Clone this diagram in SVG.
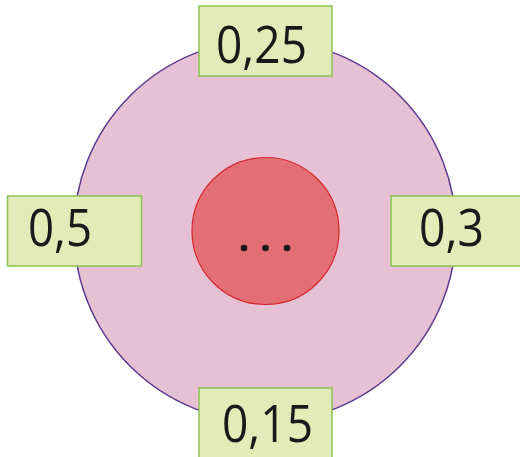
<svg xmlns="http://www.w3.org/2000/svg" width="520" height="457" viewBox="0 0 520 457">
<style>
.box{fill:#e3ebb9;stroke:#8dc353;stroke-width:1.5}
.lbl{font-family:"Open Sans","Liberation Sans",sans-serif;font-size:52px;fill:#1a1a1a}
.dot{fill:#1a1a1a}
</style>
<rect width="520" height="457" fill="#ffffff"/>
<g id="outer">
<circle cx="265" cy="231" r="191" fill="#e6c1d4" stroke="#5b3b91" stroke-width="1.5"/>
</g>
<g id="inner">
<circle cx="265.5" cy="231" r="73.5" fill="#e36f75" stroke="#d7262e" stroke-width="1.2"/>
<circle class="dot" cx="244" cy="248" r="3.3"/>
<circle class="dot" cx="265.5" cy="248" r="3.3"/>
<circle class="dot" cx="287" cy="248" r="3.3"/>
</g>
<g id="connectors"></g>
<g id="top">
<rect class="box" x="199" y="6" width="133" height="70"/>
<text class="lbl" x="216" y="63" textLength="91" lengthAdjust="spacingAndGlyphs">0,25</text>
</g>
<g id="left">
<rect class="box" x="7.5" y="196" width="134" height="70"/>
<text class="lbl" x="28" y="246" textLength="64" lengthAdjust="spacingAndGlyphs">0,5</text>
</g>
<g id="right">
<rect class="box" x="391" y="196" width="134" height="70"/>
<text class="lbl" x="419" y="246" textLength="65" lengthAdjust="spacingAndGlyphs">0,3</text>
</g>
<g id="bottom">
<rect class="box" x="199" y="388" width="133" height="72"/>
<text class="lbl" x="222" y="442" textLength="91" lengthAdjust="spacingAndGlyphs">0,15</text>
</g>
</svg>
